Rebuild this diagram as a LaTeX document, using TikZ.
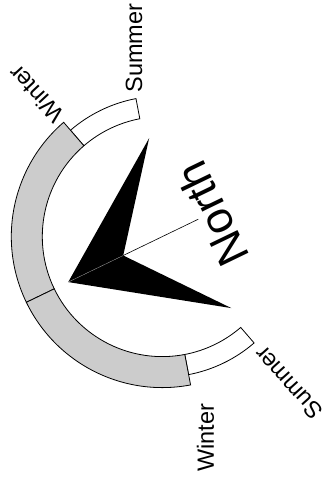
\documentclass[tikz,border=0pt]{standalone}
\usepackage{fontspec}
\setmainfont{Liberation Sans}
\begin{document}
\begin{tikzpicture}[x=1pt,y=1pt,
  seg/.style={draw=black,line width=0.8pt,line join=miter},
  winter/.style={seg,fill=black!20},
  summer/.style={seg,fill=white},
  lbl/.style={font=\fontsize{23.5}{28}\selectfont,inner sep=0pt},
  bigl/.style={font=\fontsize{45}{54}\selectfont,inner sep=0pt},
]
\useasboundingbox (0,0) rectangle (327,-483);
\coordinate (C) at (162.3,-236.6);
\begin{scope}[shift={(C)}]
  % seasonal ring
  \draw[summer] (100.8:120pt) arc[start angle=100.8,end angle=130.8,radius=120pt]
     -- (130.8:140.5pt) arc[start angle=130.8,end angle=100.8,radius=140.5pt] -- cycle;
  \draw[summer] (280.8:120pt) arc[start angle=280.8,end angle=310.8,radius=120pt]
     -- (310.8:140.5pt) arc[start angle=310.8,end angle=280.8,radius=140.5pt] -- cycle;
  \draw[winter] (130.8:120pt) arc[start angle=130.8,end angle=205.8,radius=120pt]
     -- (205.8:151pt) arc[start angle=205.8,end angle=130.8,radius=151pt] -- cycle;
  \draw[winter] (205.8:120pt) arc[start angle=205.8,end angle=280.8,radius=120pt]
     -- (280.8:151pt) arc[start angle=280.8,end angle=205.8,radius=151pt] -- cycle;
  % arrow
  \coordinate (tip) at (205.8:104.5pt);
  \coordinate (notch) at (205.8:43.4pt);
  \coordinate (ub) at (97.6:99.4pt);
  \coordinate (lb) at (-46:99.4pt);
  \coordinate (lend) at (25.8:40pt);
  \fill[black] (tip) -- (ub) -- (notch) -- (lb) -- cycle;
  \draw[gray!60,line width=0.3pt] (tip) -- (notch);
  \draw[black,line width=0.6pt] (notch) -- (lend);
\end{scope}
% labels
\node[lbl,rotate=90]  (sumtop) at (134,-48)  {Summer};
\node[lbl,rotate=133] (wintop) at (36,-94)   {Winter};
\node[lbl,rotate=132] (sumbot) at (288.5,-383) {Summer};
\node[lbl,rotate=90]  (winbot) at (205.5,-438) {Winter};
\node[bigl,rotate=115.8] (north) at (212,-214) {North};
\end{tikzpicture}
\end{document}
